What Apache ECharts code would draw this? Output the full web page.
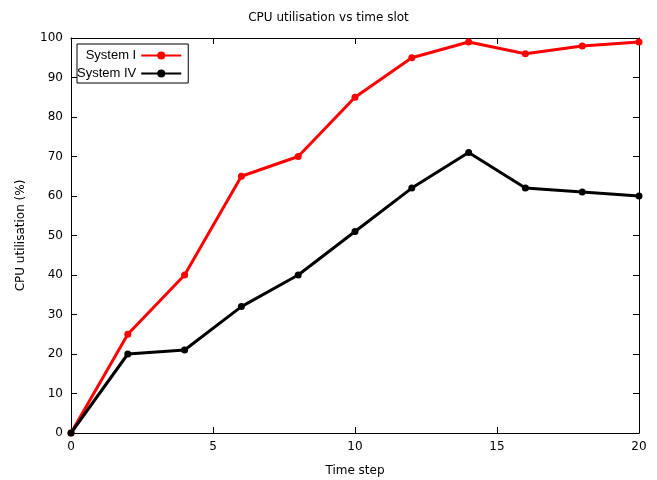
<!DOCTYPE html>
<html>
<head>
<meta charset="utf-8">
<script src="https://cdn.jsdelivr.net/npm/echarts@6/dist/echarts.min.js"></script>
<style>
  html, body { margin: 0; padding: 0; background: #fff; }
  #chart { width: 657px; height: 480px; }
</style>
</head>
<body>
<div id="chart"></div>
<script>
// time steps
const steps = [0, 2, 4, 6, 8, 10, 12, 14, 16, 18, 20]
// CPU utilisation (%)
const systemI = [0, 25, 40, 65, 70, 85, 95, 99, 96, 98, 99]
const systemIV = [0, 20, 21, 32, 40, 51, 62, 71, 62, 61, 60]

const font = 'DejaVu Sans'
const toPairs = (vals) => steps.map((s, i) => [s, vals[i]])

// axis look shared by main and mirrored axes
const axisBase = {
  axisLine: { onZero: false, lineStyle: { color: '#000', width: 1 } },
  axisTick: { inside: true, length: 6, lineStyle: { color: '#000' } },
  splitLine: { show: false },
}

let myCharts = echarts.init(document.getElementById('chart'))
let option = {
  animation: false,
  textStyle: { fontFamily: font },
  title: {
    text: 'CPU utilisation vs time slot',
    left: 'center',
    top: 7,
    textStyle: { fontFamily: font, fontSize: 12, fontWeight: 'normal', color: '#000' },
  },
  legend: {
    orient: 'vertical',
    left: 77,
    top: 44,
    align: 'right',
    itemWidth: 40,
    itemHeight: 10,
    itemGap: 5,
    padding: [5, 6, 3, 0],
    borderColor: '#000',
    borderWidth: 1,
    borderRadius: 0,
    backgroundColor: '#fff',
    textStyle: { fontFamily: 'Liberation Sans', fontSize: 13, color: '#000', width: 64, align: 'right' },
    data: ['System I', 'System IV'],
  },
  grid: { left: 71, right: 18, top: 38, bottom: 47, outerBoundsMode: 'none' },
  xAxis: [
    {
      ...axisBase,
      type: 'value',
      min: 0,
      max: 20,
      interval: 5,
      name: 'Time step',
      nameLocation: 'middle',
      nameGap: 32,
      nameTextStyle: { fontFamily: font, fontSize: 12, color: '#000' },
      axisLabel: { color: '#000', fontFamily: font, fontSize: 12, margin: 8 },
    },
    {
      ...axisBase,
      type: 'value',
      position: 'top',
      min: 0,
      max: 20,
      interval: 5,
      axisLabel: { show: false },
    },
  ],
  yAxis: [
    {
      ...axisBase,
      type: 'value',
      min: 0,
      max: 100,
      interval: 10,
      name: 'CPU utilisation (%)',
      nameLocation: 'middle',
      nameGap: 44,
      nameTextStyle: { fontFamily: font, fontSize: 12, color: '#000' },
      axisLabel: { color: '#000', fontFamily: font, fontSize: 12, margin: 8 },
    },
    {
      ...axisBase,
      type: 'value',
      position: 'right',
      min: 0,
      max: 100,
      interval: 10,
      axisLabel: { show: false },
    },
  ],
  series: [
    {
      name: 'System I',
      type: 'line',
      data: toPairs(systemI),
      color: '#ff0000',
      symbol: 'circle',
      symbolSize: 7,
      lineStyle: { width: 3, color: '#ff0000' },
      itemStyle: { color: '#ff0000' },
      z: 3,
    },
    {
      name: 'System IV',
      type: 'line',
      data: toPairs(systemIV),
      color: '#000',
      symbol: 'circle',
      symbolSize: 7,
      lineStyle: { width: 3, color: '#000' },
      itemStyle: { color: '#000' },
      z: 4,
    },
  ],
}
myCharts.setOption(option)
</script>
</body>
</html>
